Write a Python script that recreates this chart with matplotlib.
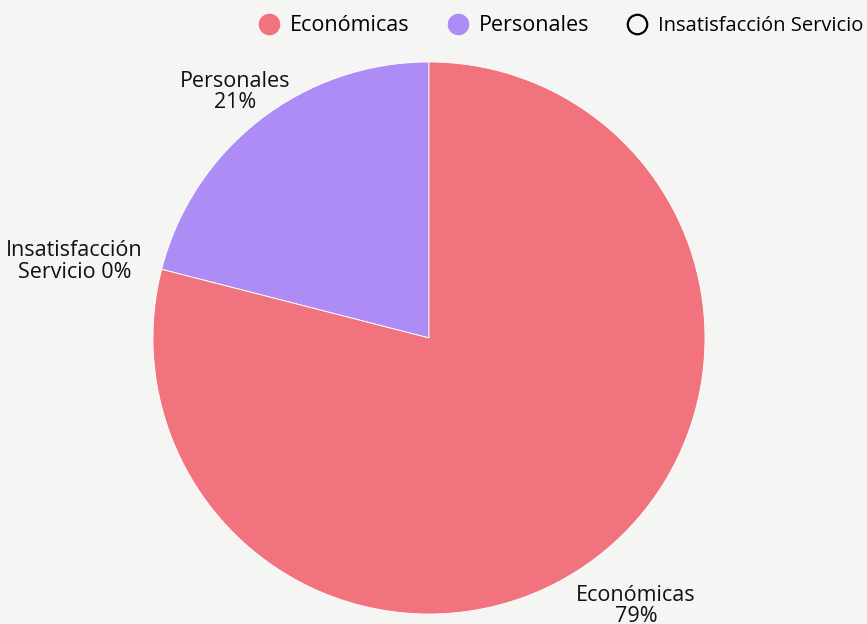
import matplotlib.pyplot as plt
from matplotlib.lines import Line2D
import numpy as np

plt.rcParams['font.family'] = ['Open Sans', 'DejaVu Sans']

# order as drawn (counter-clockwise from 12 o'clock)
categories = ["Personales", "Insatisfacción Servicio", "Económicas"]
values = [21, 0, 79]
colors = ["#ad8cf5", "#ffffff", "#f0737e"]
point_labels = ["Personales\n21%", "Insatisfacción\nServicio 0%", "Económicas\n79%"]

legend_order = ["Económicas", "Personales", "Insatisfacción Servicio"]

fig = plt.figure(figsize=(8.67, 6.24), dpi=100)
fig.patch.set_facecolor("#f5f5f4")
ax = fig.add_axes([0, 0, 1, 1])
ax.set_facecolor("#f5f5f4")

wedges, _ = ax.pie(values, colors=colors, startangle=90, counterclock=True,
                   radius=1.0, wedgeprops=dict(edgecolor="white", linewidth=0.6))
ax.set_xlim(-1.5543, 1.5870)
ax.set_ylim(-1.0362, 1.2246)
ax.set_aspect("auto")
ax.axis("off")

# pixel offsets of each label from its wedge's outer mid point
label_off = [(-25, 28), (-87, 8), (38, -50)]
for w, lab, off in zip(wedges, point_labels, label_off):
    ang = np.deg2rad((w.theta1 + w.theta2) / 2)
    ax.annotate(lab, xy=(np.cos(ang), np.sin(ang)), xytext=off,
                textcoords="offset pixels", ha="center", va="center",
                fontsize=15.5, color="#111111", linespacing=1.05)

handles = []
for name in legend_order:
    c = colors[categories.index(name)]
    if name == "Insatisfacción Servicio":
        h = Line2D([], [], marker="o", linestyle="", markersize=14,
                   markerfacecolor="none", markeredgecolor="black", markeredgewidth=1.6)
    else:
        h = Line2D([], [], marker="o", linestyle="", markersize=14.5,
                   markerfacecolor=c, markeredgecolor=c)
    handles.append(h)

leg = fig.legend(handles, legend_order, ncol=3, loc="upper right",
                 bbox_to_anchor=(1.013, 1.0), frameon=False, fontsize=15.5,
                 handletextpad=0.45, columnspacing=1.75, handlelength=1.0,
                 borderaxespad=0.3)
leg.get_texts()[2].set_fontsize(14.5)

fig.savefig("out.png", dpi=100, facecolor=fig.get_facecolor())
